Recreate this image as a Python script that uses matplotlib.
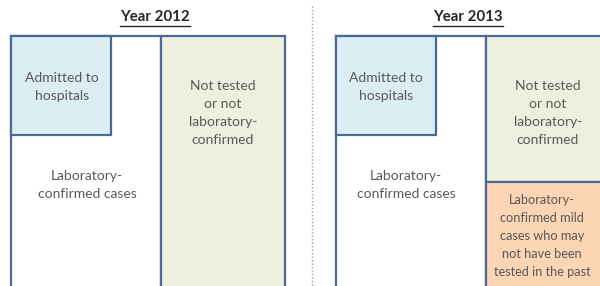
import matplotlib.pyplot as plt
from matplotlib.patches import Rectangle

plt.rcParams['font.family'] = ['Lato', 'DejaVu Sans']

# panel titles and centres (pixel coordinates of the original slide)
titles = ['Year 2012', 'Year 2013']
title_x = [155, 468]

# boxes: (x0, y0, x1, y1), fill colour, label, label centre
box_xy = [
    (11, 36, 161, 300), (11, 36, 111, 135), (161, 36, 285, 300),
    (336, 36, 486, 300), (336, 36, 436, 135), (486, 36, 610, 182), (486, 182, 610, 300),
]
box_fill = ['white', '#dbeef4', '#ebf1de', 'white', '#dbeef4', '#ebf1de', '#fcd5b5']
box_text = [
    'Laboratory-\nconfirmed cases',
    'Admitted to\nhospitals',
    'Not tested\nor not\nlaboratory-\nconfirmed',
    'Laboratory-\nconfirmed cases',
    'Admitted to\nhospitals',
    'Not tested\nor not\nlaboratory-\nconfirmed',
    'Laboratory-\nconfirmed mild\ncases who may\nnot have been\ntested in the past',
]
text_xy = [(87, 185), (62, 87), (223, 113), (406, 185), (386, 87), (548, 113), (542, 236)]
text_size = [10, 10, 10, 10, 10, 10, 9.2]

fig = plt.figure(figsize=(6, 2.86), dpi=100)
ax = fig.add_axes([0, 0, 1, 1])
ax.set_xlim(0, 600)
ax.set_ylim(286, 0)
ax.axis('off')

for (x0, y0, x1, y1), fc in zip(box_xy, box_fill):
    ax.add_patch(Rectangle((x0, y0), x1 - x0, y1 - y0, facecolor=fc,
                           edgecolor='#4a6a94', linewidth=1.6))

for (tx, ty), s, fs in zip(text_xy, box_text, text_size):
    ax.text(tx, ty, s, ha='center', va='center', fontsize=fs,
            color='#595959', linespacing=1.6)

for tx, s in zip(title_x, titles):
    ax.text(tx, 17, s, ha='center', va='center', fontsize=10.8,
            fontweight='bold', color='#262626')
    ax.plot([tx - 35, tx + 35], [25.5, 25.5], color='#262626', lw=1)

# dotted divider between the two years
ax.plot([312, 312], [6, 286], color='#a0a0a0', lw=1, ls=(0, (1, 1.5)))

fig.savefig('out.png', dpi=100)
